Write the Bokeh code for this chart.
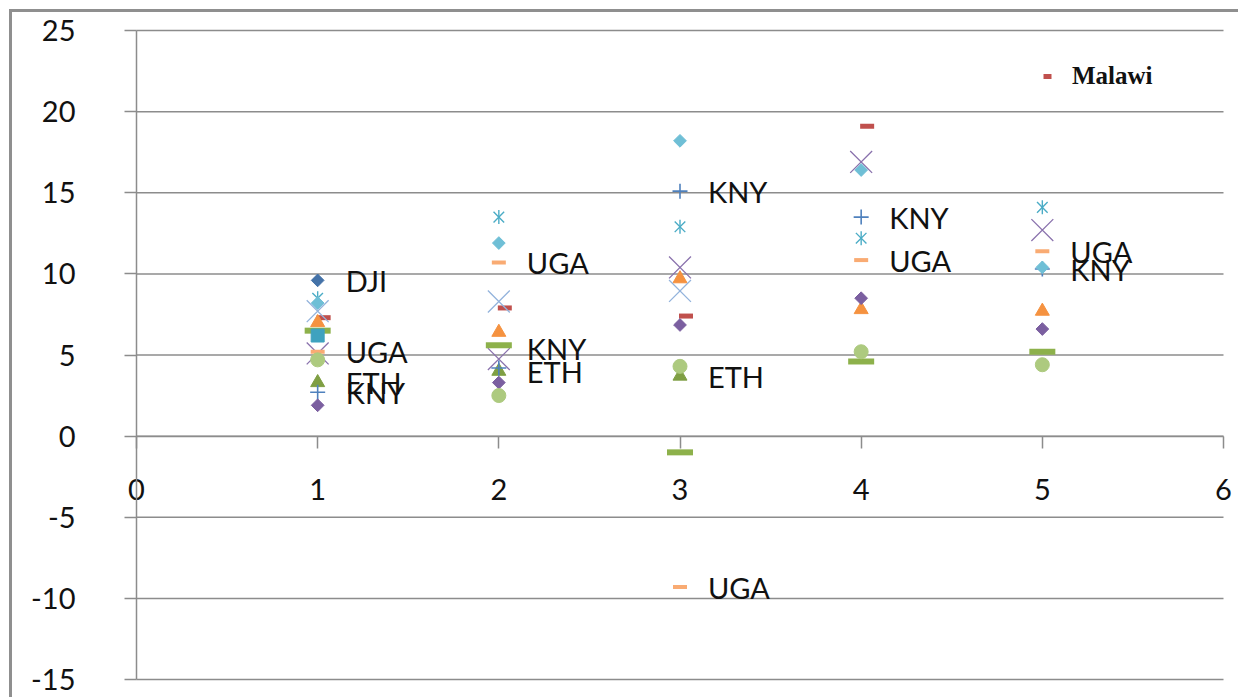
import math

from bokeh.core.properties import value
from bokeh.embed import file_html
from bokeh.models import ColumnDataSource, Legend, LegendItem, SingleIntervalTicker
from bokeh.plotting import figure
from bokeh.resources import INLINE
from bokeh.transform import dodge

# ---- data -------------------------------------------------------------
positions = [1, 2, 3, 4, 5]
x_ticks = [0, 1, 2, 3, 4, 5, 6]
y_ticks = [-15, -10, -5, 0, 5, 10, 15, 20, 25]

dji = [9.6, None, None, None, None]
malawi = [7.3, 7.9, 7.4, 19.1, None]
eth = [3.3, 4.0, 3.7, None, None]
kny = [2.7, 4.2, 15.1, 13.5, 10.3]
uga = [5.2, 10.7, -9.3, 10.85, 11.4]
purple_x = [5.1, 4.75, 10.4, 16.9, 12.7]
pale_blue_x = [7.7, 8.3, 8.95, None, None]
aqua_star = [8.5, 13.5, 12.9, 12.2, 14.1]
aqua_diamond = [8.2, 11.9, 18.2, 16.4, 10.4]
orange_triangle = [7.0, 6.4, 9.7, 7.8, 7.7]
green_bar = [6.5, 5.6, -1.0, 4.6, 5.2]
teal_square = [6.2, None, None, None, None]
green_circle = [4.7, 2.5, 4.3, 5.2, 4.4]
purple_diamond = [1.9, 3.3, 6.85, 8.5, 6.6]

labelled = {"DJI": dji, "UGA": uga, "ETH": eth, "KNY": kny}

FONT = "Lato"
GRID = "#8c8c8c"

# ---- canvas geometry (pixels) ----------------------------------------
W, H = 1229, 688            # canvas size inside the page frame
PLOT_L, PLOT_R = 124, 1211  # where x = 0 and x = 6 fall on the canvas
PLOT_T, PLOT_B = 18, 667    # where y = 25 and y = -15 fall on the canvas

x0, x1 = x_ticks[0], x_ticks[-1]
y0, y1 = y_ticks[0], y_ticks[-1]
sx = (PLOT_R - PLOT_L) / (x1 - x0)
sy = (PLOT_B - PLOT_T) / (y1 - y0)
x_range = (x0 - PLOT_L / sx, x1 + (W - PLOT_R) / sx)
y_range = (y0 - (H - PLOT_B) / sy, y1 + PLOT_T / sy)


def source(vals):
    pts = [(x, v) for x, v in zip(positions, vals) if v is not None]
    return ColumnDataSource(dict(x=[a for a, _ in pts], y=[b for _, b in pts]))


p = figure(
    width=W, height=H,
    x_range=x_range, y_range=y_range,
    output_backend="svg", toolbar_location=None,
    min_border_left=0, min_border_right=0,
    min_border_top=0, min_border_bottom=0,
)
p.styles = {
    "margin-left": "9px", "margin-top": "9px",
    "border-left": "3px solid #8f8f8f", "border-top": "3px solid #8f8f8f",
}
p.outline_line_color = None
p.background_fill_color = "white"
p.border_fill_color = "white"

# horizontal gridlines across the plot area
p.segment(x0=[x0] * len(y_ticks), x1=[x1] * len(y_ticks), y0=y_ticks, y1=y_ticks,
          line_color=GRID, line_width=1.5)
p.xgrid.grid_line_color = None
p.ygrid.grid_line_color = None

# axes crossing at the origin
p.xaxis.ticker = SingleIntervalTicker(interval=1)
p.yaxis.ticker = SingleIntervalTicker(interval=5)
p.xaxis.fixed_location = 0
p.yaxis.fixed_location = 0
p.xaxis.bounds = (x0, x1)
p.yaxis.bounds = (y0, y1)
p.yaxis.major_label_overrides = {t: str(t) for t in y_ticks}
for ax in (p.xaxis, p.yaxis):
    ax.axis_line_color = GRID
    ax.axis_line_width = 1.5
    ax.major_tick_line_color = GRID
    ax.major_tick_line_width = 1.5
    ax.major_tick_in = 0
    ax.major_tick_out = 12
    ax.minor_tick_line_color = None
    ax.major_label_text_font = FONT
    ax.major_label_text_font_size = "29px"
    ax.major_label_text_color = "#111111"
p.xaxis.major_label_standoff = 31
p.yaxis.major_label_standoff = 49


def diamond(vals, color, size=9):
    p.scatter("x", "y", source=source(vals), marker="square", angle=math.pi / 4,
              size=size, fill_color=color, line_color=color)


def tri(vals, color):
    p.scatter("x", "y", source=source(vals), marker="triangle", size=14,
              fill_color=color, line_color=color)


def cross_x(vals, color, size=31):
    p.scatter("x", "y", source=source(vals), marker="x", size=size,
              line_color=color, line_width=1.3)


def star(vals, color):
    src = source(vals)
    p.scatter("x", "y", source=src, marker="x", size=15, line_color=color, line_width=1.4)
    p.scatter("x", "y", source=src, marker="dash", angle=math.pi / 2, size=14,
              line_color=color, line_width=1.4)


def bar(vals, color, w, h, shift=0.0):
    xs = dodge("x", shift, range=p.x_range) if shift else "x"
    return p.scatter(xs, "y", source=source(vals), marker="dash", size=w,
                     line_color=color, line_width=h)


# series, drawn back to front
diamond(dji, "#4472a8")
malawi_r = bar(malawi, "#c0504d", 14, 5, shift=0.033)
tri(eth, "#7f9f43")
cross_x(purple_x, "#8a72ad")
star(aqua_star, "#4bacc6")
tri(orange_triangle, "#f59240")
p.scatter("x", "y", source=source(kny), marker="cross", size=15,
          line_color="#4f81bd", line_width=1.6)
bar(green_bar, "#8db14b", 26, 6)
diamond(purple_diamond, "#7b5fa0")
diamond(aqua_diamond, "#6fbfd6")
p.scatter("x", "y", source=source(teal_square), marker="square", size=13,
          fill_color="#3fa2bf", line_color="#3fa2bf")
cross_x(pale_blue_x, "#93b3dc")
bar(uga, "#f9ab73", 14, 4)
p.scatter("x", "y", source=source(green_circle), marker="circle", size=14,
          fill_color="#adca7f", line_color="#adca7f")

# series-name labels beside their points
lx, ly, lt, dy = [], [], [], []
for name, vals in labelled.items():
    for x, v in zip(positions, vals):
        if v is None:
            continue
        lx.append(x)
        ly.append(v)
        lt.append(name)
        dy.append(-19 if (name == "KNY" and x == 2) else 0)
p.text("x", "y", text="text", source=ColumnDataSource(dict(x=lx, y=ly, text=lt, dy=dy)),
       x_offset=28, y_offset="dy", text_baseline="middle", text_align="left",
       text_font=value(FONT), text_font_size="29px", text_color="#111111")

legend = Legend(
    items=[LegendItem(label="Malawi", renderers=[malawi_r])],
    location=(1025, 610),
    padding=0, margin=0, spacing=0,
    glyph_width=20, glyph_height=20, label_standoff=15,
    border_line_color=None, background_fill_alpha=0,
    label_text_font="Liberation Serif", label_text_font_style="bold",
    label_text_font_size="25px", label_text_color="#111111",
)
p.add_layout(legend)

open("out.html", "w").write(file_html(p, INLINE))
